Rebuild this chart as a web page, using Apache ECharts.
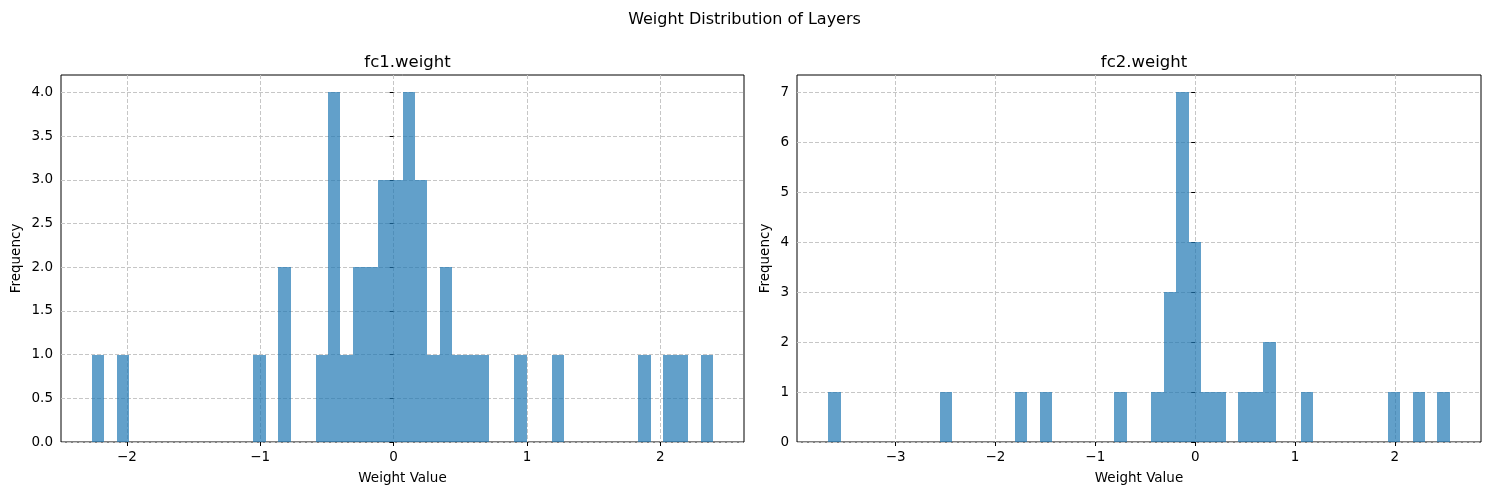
<!DOCTYPE html>
<html>
<head>
<meta charset="utf-8">
<script src="https://cdn.jsdelivr.net/npm/echarts@6/dist/echarts.min.js"></script>
<style>
html,body{margin:0;padding:0;background:#fff;}
#chart{width:1489px;height:495px;}
</style>
</head>
<body>
<div id="chart"></div>
<script>
// ---- Data (50 bins each) ----
const suptitle = 'Weight Distribution of Layers';
const panelTitles = ['fc1.weight', 'fc2.weight'];
const fc1Range = [-2.261, 2.395];
const fc1Counts = [
  1,0,1,0,0,0,0,0,0,0,
  0,0,0,1,0,2,0,0,1,4,
  1,2,2,3,3,4,3,1,2,1,
  1,1,0,0,1,0,0,1,0,0,
  0,0,0,0,1,0,1,1,0,1
];
const fc2Range = [-3.676, 2.551];
const fc2Counts = [
  1,0,0,0,0,0,0,0,0,1,
  0,0,0,0,0,1,0,1,0,0,
  0,0,0,1,0,0,1,3,7,4,
  1,1,0,1,1,2,0,0,1,0,
  0,0,0,0,0,1,0,1,0,1
];
const fc1XTicks = [-2, -1, 0, 1, 2];
const fc2XTicks = [-3, -2, -1, 0, 1, 2];
const fc1YTicks = [0, 0.5, 1, 1.5, 2, 2.5, 3, 3.5, 4];
const fc2YTicks = [0, 1, 2, 3, 4, 5, 6, 7];

// ---- Build histogram rectangles (bin edges from range) ----
function binData(range, counts) {
  const n = counts.length, w = (range[1] - range[0]) / n;
  const out = [];
  for (let i = 0; i < n; i++) {
    if (counts[i] > 0) out.push([range[0] + i * w, range[0] + (i + 1) * w, counts[i]]);
  }
  return out;
}
function padded(range) {
  const m = (range[1] - range[0]) * 0.05;
  return [range[0] - m, range[1] + m];
}

const FONT = 'DejaVu Sans';
const tickFont = {fontFamily: FONT, fontSize: 13.5, color: '#000'};
const gridLine = {show: true, lineStyle: {color: '#c6c6c6', type: [4, 2], width: 1}};
const minus = v => (v < 0 ? '\u2212' + String(-v) : String(v));

function xAxis(idx, range, ticks) {
  const p = padded(range);
  return {
    type: 'value', gridIndex: idx, min: p[0], max: p[1],
    axisLine: {show: false},
    axisTick: {show: true, length: 4, inside: false, lineStyle: {color: '#000', width: 1}, customValues: ticks},
    axisLabel: Object.assign({customValues: ticks, margin: 8, formatter: v => minus(v)}, tickFont),
    splitLine: gridLine,
    name: 'Weight Value', nameLocation: 'middle', nameGap: 29,
    nameTextStyle: {fontFamily: FONT, fontSize: 13.5, color: '#000'}
  };
}
function yAxis(idx, max, ticks, fmt, gap) {
  return {
    type: 'value', gridIndex: idx, min: 0, max: max,
    axisLine: {show: false},
    axisTick: {show: true, length: 4, inside: false, lineStyle: {color: '#000', width: 1}, customValues: ticks},
    axisLabel: Object.assign({customValues: ticks, margin: 8, formatter: fmt}, tickFont),
    splitLine: gridLine,
    name: 'Frequency', nameLocation: 'middle', nameGap: gap, nameRotate: 90,
    nameTextStyle: {fontFamily: FONT, fontSize: 13.5, color: '#000'}
  };
}
function histSeries(idx, data) {
  return {
    type: 'custom', xAxisIndex: idx, yAxisIndex: idx, data: data,
    renderItem: function (params, api) {
      const a = api.coord([api.value(0), 0]);
      const b = api.coord([api.value(1), api.value(2)]);
      const x0 = Math.round(a[0]), x1 = Math.round(b[0]);
      const y0 = Math.round(a[1]), y1 = Math.round(b[1]);
      return {
        type: 'rect',
        shape: {x: x0, y: y1, width: x1 - x0, height: y0 - y1},
        style: {fill: '#1f77b4', opacity: 0.7}
      };
    }
  };
}

const chart = echarts.init(document.getElementById('chart'), null, {renderer: 'canvas'});
const grids = [
  {left: 61, top: 75, width: 683, height: 367},
  {left: 797, top: 75, width: 684, height: 367}
];
chart.setOption({
  backgroundColor: '#fff',
  animation: false,
  title: [
    {text: suptitle, left: 'center', top: 7, textStyle: {fontFamily: FONT, fontSize: 16, fontWeight: 'normal', color: '#000'}},
    {text: panelTitles[0], left: 402.5, textAlign: 'center', top: 49, textStyle: {fontFamily: FONT, fontSize: 16.5, fontWeight: 'normal', color: '#000'}},
    {text: panelTitles[1], left: 1139, textAlign: 'center', top: 49, textStyle: {fontFamily: FONT, fontSize: 16.5, fontWeight: 'normal', color: '#000'}}
  ],
  grid: grids.map(g => Object.assign({show: true, borderColor: '#000', borderWidth: 1, backgroundColor: 'transparent', containLabel: false}, g)),
  xAxis: [xAxis(0, fc1Range, fc1XTicks), xAxis(1, fc2Range, fc2XTicks)],
  yAxis: [
    yAxis(0, 4.2, fc1YTicks, v => v.toFixed(1), 38),
    yAxis(1, 7.35, fc2YTicks, v => String(v), 25)
  ],
  series: [histSeries(0, binData(fc1Range, fc1Counts)), histSeries(1, binData(fc2Range, fc2Counts))]
});
</script>
</body>
</html>
